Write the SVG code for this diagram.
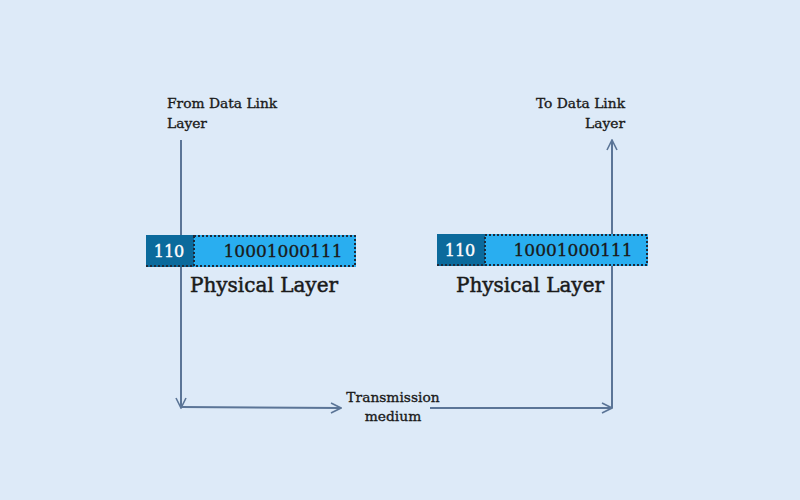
<svg xmlns="http://www.w3.org/2000/svg" width="800" height="500" viewBox="0 0 800 500">
<defs>
<style>
.t{font-family:"DejaVu Serif","Liberation Serif",serif;fill:#1a1a1a;stroke:#1a1a1a;stroke-width:0.35px}
.s{font-size:13.8px}
.big{font-size:20px;stroke-width:0.5px}
.ln{stroke:#5b7597;stroke-width:2;fill:none}
.dk{fill:#0b6a9c}
.lt{fill:#29aef0}
.dot{fill:none;stroke:#1d2a3a;stroke-width:2;stroke-dasharray:2 2}
.w{fill:#ffffff;stroke:#ffffff;stroke-width:0.4px}
</style>
<marker id="ah" viewBox="0 0 12 12" refX="11" refY="6" markerWidth="12" markerHeight="12" markerUnits="userSpaceOnUse" orient="auto">
<path d="M1,1 L11,6 L1,11" fill="none" stroke="#5b7597" stroke-width="1.6"/>
</marker>
</defs>
<rect width="800" height="500" fill="#ddeaf8"/>
<g id="connectors">
<line class="ln" x1="181" y1="140" x2="181" y2="408" marker-end="url(#ah)"/>
<line class="ln" x1="181" y1="407" x2="341" y2="408" marker-end="url(#ah)"/>
<line class="ln" x1="430" y1="408" x2="612" y2="408" marker-end="url(#ah)"/>
<line class="ln" x1="612" y1="408" x2="612" y2="140" marker-end="url(#ah)"/>
</g>
<g id="label-from">
<text class="t s" x="167" y="108">From Data Link</text>
<text class="t s" x="167" y="128">Layer</text>
</g>
<g id="label-to">
<text class="t s" x="625" y="108" text-anchor="end">To Data Link</text>
<text class="t s" x="625" y="128" text-anchor="end">Layer</text>
</g>
<g id="sender">
<rect class="dk" x="146" y="235" width="48" height="32"/>
<rect class="lt" x="194" y="235" width="162" height="32"/>
<rect class="dot" x="194" y="236" width="161" height="30"/>
<line class="dot" x1="146" y1="266" x2="194" y2="266"/>
<text class="t w" x="169" y="257" font-size="16" text-anchor="middle">110</text>
<text class="t" x="283" y="257" font-size="17" text-anchor="middle">10001000111</text>
<text class="t big" x="264" y="292" text-anchor="middle">Physical Layer</text>
</g>
<g id="receiver">
<rect class="dk" x="437" y="234" width="48" height="32"/>
<rect class="lt" x="485" y="234" width="163" height="32"/>
<rect class="dot" x="485" y="235" width="162" height="30"/>
<line class="dot" x1="437" y1="265" x2="485" y2="265"/>
<text class="t w" x="460" y="256" font-size="16" text-anchor="middle">110</text>
<text class="t" x="573" y="256" font-size="17" text-anchor="middle">10001000111</text>
<text class="t big" x="530" y="292" text-anchor="middle">Physical Layer</text>
</g>
<g id="medium">
<text class="t s" x="393" y="402" text-anchor="middle">Transmission</text>
<text class="t s" x="393" y="421" text-anchor="middle">medium</text>
</g>
</svg>
